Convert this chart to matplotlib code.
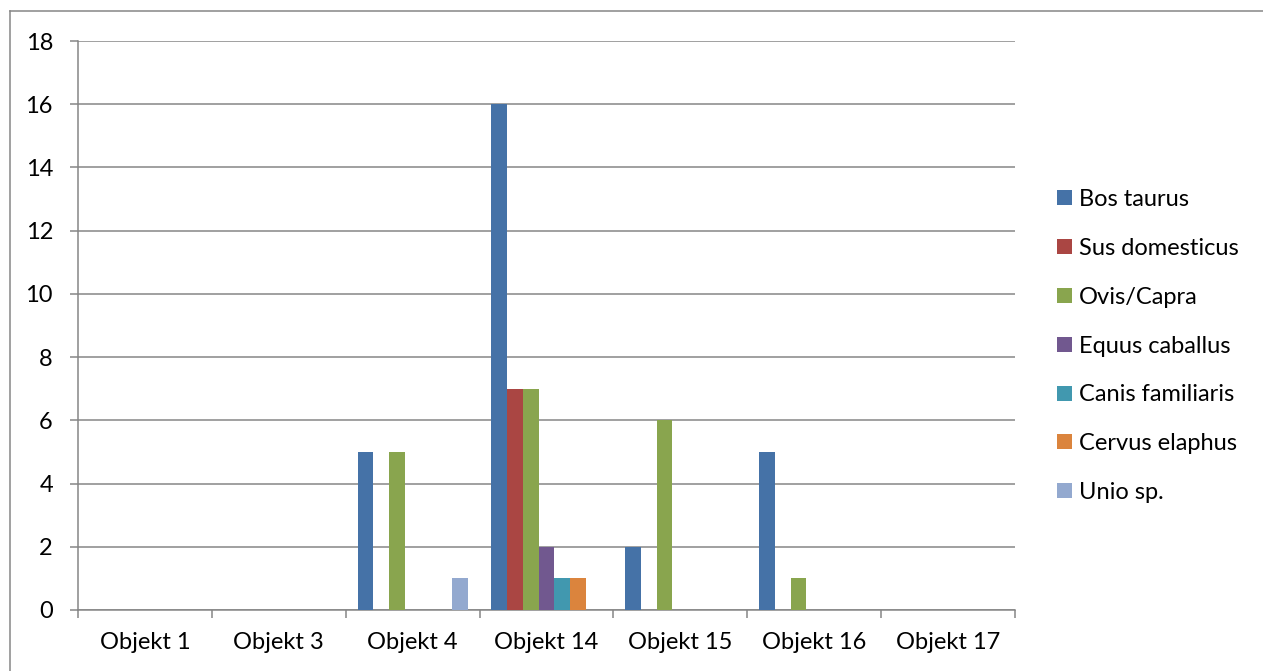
import numpy as np
import matplotlib.pyplot as plt
from matplotlib.lines import Line2D

plt.rcParams['font.family'] = ['Lato', 'DejaVu Sans']

# data
objekte = ['Objekt 1', 'Objekt 3', 'Objekt 4', 'Objekt 14', 'Objekt 15', 'Objekt 16', 'Objekt 17']
arten = ['Bos taurus', 'Sus domesticus', 'Ovis/Capra', 'Equus caballus',
         'Canis familiaris', 'Cervus elaphus', 'Unio sp.']
bos_taurus = [0, 0, 5, 16, 2, 5, 0]
sus_domesticus = [0, 0, 0, 7, 0, 0, 0]
ovis_capra = [0, 0, 5, 7, 6, 1, 0]
equus_caballus = [0, 0, 0, 2, 0, 0, 0]
canis_familiaris = [0, 0, 0, 1, 0, 0, 0]
cervus_elaphus = [0, 0, 0, 1, 0, 0, 0]
unio_sp = [0, 0, 1, 0, 0, 0, 0]
werte = [bos_taurus, sus_domesticus, ovis_capra, equus_caballus,
         canis_familiaris, cervus_elaphus, unio_sp]
farben = ['#4572A7', '#AA4643', '#89A54E', '#71588F', '#4198AF', '#DB843D', '#93A9CF']

fs = 17
fig = plt.figure(figsize=(12.63, 6.71), dpi=100)
ax = fig.add_axes([78 / 1263, 61 / 671, 937 / 1263, 569 / 671])

# excel style: gap width 150%
n = len(arten)
w = 1 / (n + 1.5)
x = np.arange(len(objekte))
for i, (name, vals) in enumerate(zip(arten, werte)):
    pos = x - 0.5 + 0.75 * w + (i + 0.5) * w
    ax.bar(pos, vals, width=w, color=farben[i], label=name, zorder=3)

grau = '#868686'
ax.set_xlim(-0.5, len(objekte) - 0.5)
ax.set_ylim(0, 18)
ax.set_yticks(range(0, 19, 2))
ax.grid(axis='y', color=grau, linewidth=1.1, zorder=0)
ax.set_xticks(x)
ax.set_xticklabels(objekte)
ax.set_xticks(np.arange(len(objekte) + 1) - 0.5, minor=True)
ax.tick_params(axis='x', which='major', length=0, pad=16, labelsize=fs)
ax.tick_params(axis='x', which='minor', length=6, color=grau, width=1.1)
ax.tick_params(axis='y', length=6, color=grau, width=1.1, pad=12, labelsize=fs)
for s in ['top', 'right']:
    ax.spines[s].set_visible(False)
for s in ['left', 'bottom']:
    ax.spines[s].set_color(grau)
    ax.spines[s].set_linewidth(1.1)

ax.legend(loc='upper left', bbox_to_anchor=(1057 / 1263, 1 - 189 / 671),
          bbox_transform=fig.transFigure, frameon=False, fontsize=fs,
          handlelength=0.64, handleheight=0.6, handletextpad=0.3,
          labelspacing=1.18, borderpad=0, borderaxespad=0)

# chart border
fig.add_artist(Line2D([9.5 / 1263, 9.5 / 1263], [0, 1 - 11 / 671], color=grau, lw=1.1))
fig.add_artist(Line2D([9.5 / 1263, 1], [1 - 11 / 671, 1 - 11 / 671], color=grau, lw=1.1))

fig.savefig('out.png', dpi=100)
